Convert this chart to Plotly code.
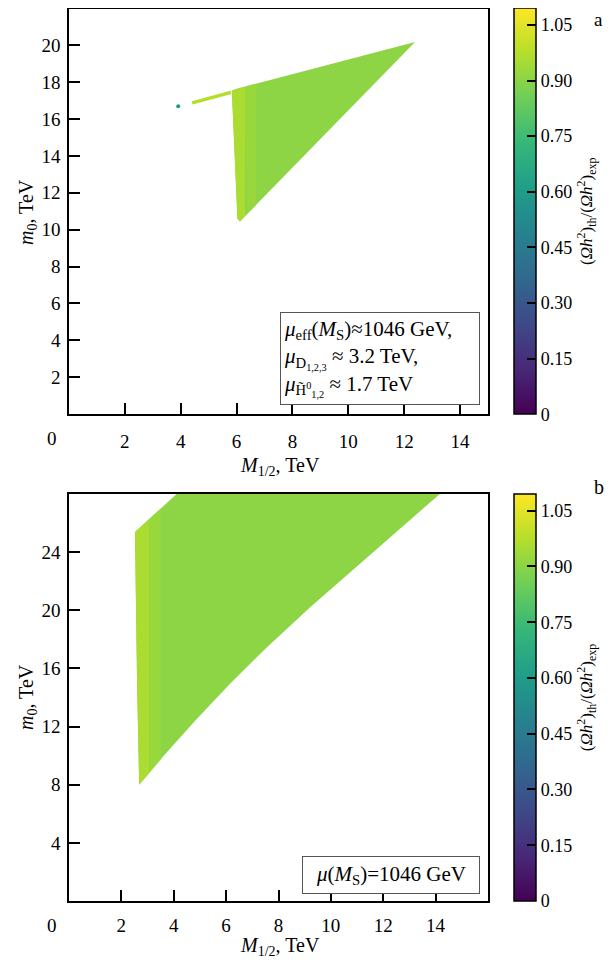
import plotly.graph_objects as go
from plotly.colors import sample_colorscale

# The page body has an 8 px margin, so the figure is drawn at (8, 8).
OFF = 8
W, H = 612 - OFF, 965 - OFF
CMIN, CMAX = 0.0, 1.095
SERIF = "Liberation Serif"

# ---------------- data ----------------
# Panel a: allowed region (M1/2, m0) in TeV, colour value of the ratio
a_main_x = [5.83, 6.00, 12.39, 6.12, 6.03, 5.92, 5.83]
a_main_y = [17.55, 17.65, 20.18, 10.45, 10.60, 14.00, 17.55]
a_main_val = 0.905
a_mid_x = [6.25, 6.70, 6.70, 6.40, 6.25]
a_mid_y = [17.72, 17.90, 11.35, 10.90, 17.72]
a_mid_val = 0.925
a_edge_x = [5.83, 6.30, 6.30, 6.12, 6.03, 5.92, 5.83]
a_edge_y = [17.55, 17.74, 10.73, 10.45, 10.60, 14.00, 17.55]
a_edge_val = 0.955
a_streak_x = [4.41, 5.10, 5.80]
a_streak_y = [16.88, 17.16, 17.45]
a_streak_val = 0.97
a_dot_x = [3.91]
a_dot_y = [16.69]
a_dot_val = [0.60]

# Panel b
b_main_x = [2.52, 4.11, 14.16, 11.60, 9.20, 7.50, 6.15, 4.87, 3.60, 2.68, 2.60, 2.52]
b_main_y = [25.38, 28.00, 28.00, 24.00, 20.20, 17.35, 14.95, 12.50, 9.95, 8.00, 15.0, 25.38]
b_main_val = 0.905
b_mid_x = [3.00, 3.50, 3.50, 3.00, 3.00]
b_mid_y = [26.17, 26.99, 9.74, 8.68, 26.17]
b_mid_val = 0.925
b_edge_x = [2.52, 3.05, 3.05, 2.68, 2.60, 2.52]
b_edge_y = [25.38, 26.25, 8.78, 8.00, 15.0, 25.38]
b_edge_val = 0.955

a_xticks = [2, 4, 6, 8, 10, 12, 14]
a_yticks = [2, 4, 6, 8, 10, 12, 14, 16, 18, 20]
b_xticks = [2, 4, 6, 8, 10, 12, 14]
b_yticks = [4, 8, 12, 16, 20, 24]
cb_ticks = [0, 0.15, 0.30, 0.45, 0.60, 0.75, 0.90, 1.05]
cb_ticktext = ["0", "0.15", "0.30", "0.45", "0.60", "0.75", "0.90", "1.05"]


def col(v):
    return sample_colorscale("Viridis", [(v - CMIN) / (CMAX - CMIN)])[0]


def px_x(p):
    return min(1.0, max(0.0, (p - OFF) / W))


def px_y(p):
    return min(1.0, max(0.0, 1 - (p - OFF) / H))


fig = go.Figure()


def poly(x, y, v, xa, ya):
    fig.add_trace(go.Scatter(x=x, y=y, mode="lines", fill="toself",
                             fillcolor=col(v), line=dict(width=0, color=col(v)),
                             xaxis=xa, yaxis=ya, hoverinfo="skip", showlegend=False))


poly(a_main_x, a_main_y, a_main_val, "x", "y")
poly(a_mid_x, a_mid_y, a_mid_val, "x", "y")
poly(a_edge_x, a_edge_y, a_edge_val, "x", "y")
fig.add_trace(go.Scatter(x=a_streak_x, y=a_streak_y, mode="lines",
                         line=dict(width=3.5, color=col(a_streak_val)),
                         xaxis="x", yaxis="y", showlegend=False))
fig.add_trace(go.Scatter(x=a_dot_x, y=a_dot_y, mode="markers",
                         marker=dict(size=4, color=a_dot_val, coloraxis="coloraxis"),
                         xaxis="x", yaxis="y", showlegend=False))

poly(b_main_x, b_main_y, b_main_val, "x2", "y2")
poly(b_mid_x, b_mid_y, b_mid_val, "x2", "y2")
poly(b_edge_x, b_edge_y, b_edge_val, "x2", "y2")
fig.add_trace(go.Scatter(x=[b_main_x[4]], y=[b_main_y[4] + 1], mode="markers",
                         marker=dict(size=2, color=[b_main_val], coloraxis="coloraxis2"),
                         xaxis="x2", yaxis="y2", showlegend=False))

TICKF = dict(family=SERIF, size=19, color="black")
axis_common = dict(showgrid=False, zeroline=False, showline=True, linecolor="black",
                   linewidth=1.5, mirror=True, ticks="inside", ticklen=11, tickwidth=1.5,
                   tickcolor="black", tickfont=TICKF)

xdom = [px_x(69), px_x(488)]
fig.update_layout(
    width=W, height=H, margin=dict(l=0, r=0, t=0, b=0),
    paper_bgcolor="white", plot_bgcolor="white",
    xaxis=dict(domain=xdom, range=[0, 15], tickvals=a_xticks, anchor="y",
               ticklabelstandoff=9, **axis_common),
    yaxis=dict(domain=[px_y(414), px_y(8.5)], range=[0, 22], tickvals=a_yticks, anchor="x",
               ticklabelstandoff=3, **axis_common),
    xaxis2=dict(domain=xdom, range=[0, 16], tickvals=b_xticks, anchor="y2",
                ticklabelstandoff=6, **axis_common),
    yaxis2=dict(domain=[px_y(901), px_y(494)], range=[0, 28], tickvals=b_yticks, anchor="x2",
                ticklabelstandoff=3, **axis_common),
)

cb_title = "(<i>Ωh</i><sup>2</sup>)<sub>th</sub>/(<i>Ωh</i><sup>2</sup>)<sub>exp</sub>"


def cbar(top, bottom):
    return dict(x=px_x(514), xanchor="left", y=px_y((top + bottom) / 2), yanchor="middle",
                len=(bottom - top) / H, lenmode="fraction", thickness=22, thicknessmode="pixels",
                xpad=0, ypad=0, outlinewidth=1.5, outlinecolor="black",
                ticks="inside", ticklen=9, tickwidth=1.5, tickcolor="black",
                tickvals=cb_ticks, ticktext=cb_ticktext,
                tickfont=dict(family=SERIF, size=18, color="black"),
                title=dict(text=cb_title, side="right",
                           font=dict(family=SERIF, size=17, color="black")))


fig.update_layout(
    coloraxis=dict(colorscale="Viridis", cmin=CMIN, cmax=CMAX, colorbar=cbar(8.5, 414)),
    coloraxis2=dict(colorscale="Viridis", cmin=CMIN, cmax=CMAX, colorbar=cbar(494, 901)),
)

F = dict(family=SERIF, size=20, color="black")


def ann(text, x, y, **kw):
    d = dict(text=text, x=px_x(x), y=px_y(y), xref="paper", yref="paper",
             xanchor="center", yanchor="middle", showarrow=False, font=kw.pop("font", F))
    d.update(kw)
    fig.add_annotation(**d)


ann("a", 598, 8, yanchor="top", borderpad=0, font=dict(family=SERIF, size=19, color="black"))
ann("b", 599, 487)
ann("0", 52, 438, font=TICKF)
ann("0", 52, 925, font=TICKF)
ann("<i>M</i><sub>1/2</sub>, TeV", 280, 466)
ann("<i>M</i><sub>1/2</sub>, TeV", 280, 946)
ann("<i>m</i><sub>0</sub>, TeV", 27, 212, textangle=-90)
ann("<i>m</i><sub>0</sub>, TeV", 27, 697, textangle=-90)

BOXF = dict(family=SERIF, size=21, color="black")
ann("<i>μ</i><sub>eff</sub>(<i>M</i><sub>S</sub>)≈1046 GeV,<br>"
    "<i>μ</i><sub>D<sub>1,2,3</sub></sub> ≈ 3.2 TeV,<br>"
    "<i>μ</i><sub>H̃<sup>0</sup><sub>1,2</sub></sub> ≈ 1.7 TeV",
    280, 312, xanchor="left", yanchor="top", align="left", valign="middle",
    width=192, height=85, borderpad=3, bordercolor="#555", borderwidth=1, bgcolor="white",
    font=BOXF)
ann("<i>μ</i>(<i>M</i><sub>S</sub>)=1046 GeV", 302, 856, xanchor="left", yanchor="top",
    align="center", valign="middle", width=170, height=30, borderpad=3,
    bordercolor="#555", borderwidth=1, bgcolor="white", font=BOXF)

fig.write_html("out.html")
